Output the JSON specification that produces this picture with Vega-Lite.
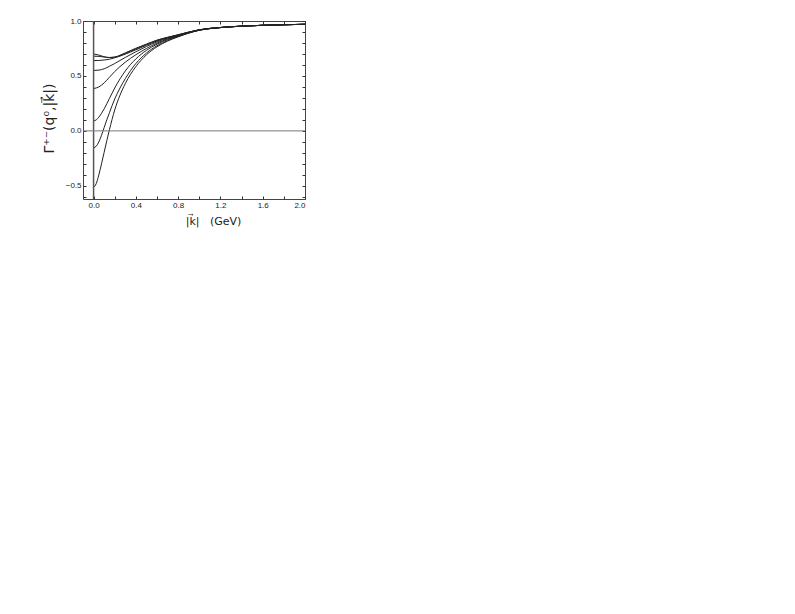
{
  "$schema": "https://vega.github.io/schema/vega-lite/v6.json",
  "autosize": "none",
  "padding": {"left": 83, "top": 21, "right": 490, "bottom": 415},
  "width": 222,
  "height": 178,
  "background": "white",
  "config": {
    "view": {"stroke": "#444", "strokeWidth": 1},
    "font": "Liberation Sans",
    "axis": {
      "grid": false,
      "domain": false,
      "tickSize": -3,
      "tickColor": "#333",
      "labelFont": "Liberation Sans",
      "labelFontSize": 8,
      "labelColor": "#222",
      "titleFont": "DejaVu Sans",
      "titleFontWeight": "normal",
      "titleFontSize": 11,
      "titleColor": "#222"
    }
  },
  "datasets": {
    "curves": [
      {"c":"A","k":0,"v":0.70},{"c":"A","k":0.05,"v":0.69},{"c":"A","k":0.1,"v":0.675},{"c":"A","k":0.15,"v":0.667},{"c":"A","k":0.2,"v":0.672},{"c":"A","k":0.3,"v":0.71},{"c":"A","k":0.4,"v":0.752},{"c":"A","k":0.5,"v":0.79},{"c":"A","k":0.6,"v":0.826},{"c":"A","k":0.7,"v":0.852},{"c":"A","k":0.8,"v":0.875},{"c":"A","k":1.0,"v":0.92},{"c":"A","k":1.2,"v":0.941},{"c":"A","k":1.4,"v":0.953},{"c":"A","k":1.6,"v":0.961},{"c":"A","k":1.8,"v":0.966},{"c":"A","k":2.0,"v":0.97},
      {"c":"B","k":0,"v":0.68},{"c":"B","k":0.05,"v":0.678},{"c":"B","k":0.1,"v":0.672},{"c":"B","k":0.15,"v":0.668},{"c":"B","k":0.2,"v":0.671},{"c":"B","k":0.3,"v":0.705},{"c":"B","k":0.4,"v":0.746},{"c":"B","k":0.5,"v":0.785},{"c":"B","k":0.6,"v":0.823},{"c":"B","k":0.7,"v":0.85},{"c":"B","k":0.8,"v":0.874},{"c":"B","k":1.0,"v":0.92},{"c":"B","k":1.2,"v":0.941},{"c":"B","k":1.4,"v":0.953},{"c":"B","k":1.6,"v":0.961},{"c":"B","k":1.8,"v":0.966},{"c":"B","k":2.0,"v":0.97},
      {"c":"C","k":0,"v":0.64},{"c":"C","k":0.05,"v":0.641},{"c":"C","k":0.1,"v":0.645},{"c":"C","k":0.15,"v":0.652},{"c":"C","k":0.2,"v":0.665},{"c":"C","k":0.3,"v":0.698},{"c":"C","k":0.4,"v":0.738},{"c":"C","k":0.5,"v":0.779},{"c":"C","k":0.6,"v":0.818},{"c":"C","k":0.7,"v":0.847},{"c":"C","k":0.8,"v":0.872},{"c":"C","k":1.0,"v":0.92},{"c":"C","k":1.2,"v":0.941},{"c":"C","k":1.4,"v":0.953},{"c":"C","k":1.6,"v":0.961},{"c":"C","k":1.8,"v":0.966},{"c":"C","k":2.0,"v":0.97},
      {"c":"D","k":0,"v":0.55},{"c":"D","k":0.05,"v":0.553},{"c":"D","k":0.1,"v":0.565},{"c":"D","k":0.15,"v":0.588},{"c":"D","k":0.2,"v":0.613},{"c":"D","k":0.3,"v":0.668},{"c":"D","k":0.4,"v":0.72},{"c":"D","k":0.5,"v":0.768},{"c":"D","k":0.6,"v":0.81},{"c":"D","k":0.7,"v":0.843},{"c":"D","k":0.8,"v":0.869},{"c":"D","k":1.0,"v":0.919},{"c":"D","k":1.2,"v":0.941},{"c":"D","k":1.4,"v":0.953},{"c":"D","k":1.6,"v":0.961},{"c":"D","k":1.8,"v":0.966},{"c":"D","k":2.0,"v":0.97},
      {"c":"E","k":0,"v":0.385},{"c":"E","k":0.05,"v":0.40},{"c":"E","k":0.1,"v":0.437},{"c":"E","k":0.15,"v":0.488},{"c":"E","k":0.2,"v":0.54},{"c":"E","k":0.3,"v":0.625},{"c":"E","k":0.4,"v":0.693},{"c":"E","k":0.5,"v":0.75},{"c":"E","k":0.6,"v":0.799},{"c":"E","k":0.7,"v":0.837},{"c":"E","k":0.8,"v":0.866},{"c":"E","k":1.0,"v":0.918},{"c":"E","k":1.2,"v":0.94},{"c":"E","k":1.4,"v":0.953},{"c":"E","k":1.6,"v":0.961},{"c":"E","k":1.8,"v":0.966},{"c":"E","k":2.0,"v":0.97},
      {"c":"F","k":0,"v":0.09},{"c":"F","k":0.025,"v":0.10},{"c":"F","k":0.05,"v":0.125},{"c":"F","k":0.075,"v":0.16},{"c":"F","k":0.1,"v":0.2},{"c":"F","k":0.15,"v":0.295},{"c":"F","k":0.2,"v":0.39},{"c":"F","k":0.3,"v":0.545},{"c":"F","k":0.4,"v":0.655},{"c":"F","k":0.5,"v":0.733},{"c":"F","k":0.6,"v":0.789},{"c":"F","k":0.7,"v":0.831},{"c":"F","k":0.8,"v":0.863},{"c":"F","k":1.0,"v":0.917},{"c":"F","k":1.2,"v":0.94},{"c":"F","k":1.4,"v":0.953},{"c":"F","k":1.6,"v":0.961},{"c":"F","k":1.8,"v":0.966},{"c":"F","k":2.0,"v":0.97},
      {"c":"G","k":0,"v":-0.155},{"c":"G","k":0.025,"v":-0.14},{"c":"G","k":0.05,"v":-0.1},{"c":"G","k":0.075,"v":-0.04},{"c":"G","k":0.1,"v":0.03},{"c":"G","k":0.125,"v":0.1},{"c":"G","k":0.15,"v":0.165},{"c":"G","k":0.2,"v":0.29},{"c":"G","k":0.25,"v":0.39},{"c":"G","k":0.3,"v":0.475},{"c":"G","k":0.4,"v":0.613},{"c":"G","k":0.5,"v":0.708},{"c":"G","k":0.6,"v":0.775},{"c":"G","k":0.7,"v":0.823},{"c":"G","k":0.8,"v":0.859},{"c":"G","k":1.0,"v":0.916},{"c":"G","k":1.2,"v":0.94},{"c":"G","k":1.4,"v":0.953},{"c":"G","k":1.6,"v":0.961},{"c":"G","k":1.8,"v":0.966},{"c":"G","k":2.0,"v":0.97},
      {"c":"H","k":0,"v":-0.515},{"c":"H","k":0.025,"v":-0.48},{"c":"H","k":0.05,"v":-0.4},{"c":"H","k":0.075,"v":-0.3},{"c":"H","k":0.1,"v":-0.195},{"c":"H","k":0.125,"v":-0.09},{"c":"H","k":0.15,"v":0.01},{"c":"H","k":0.2,"v":0.19},{"c":"H","k":0.25,"v":0.325},{"c":"H","k":0.3,"v":0.43},{"c":"H","k":0.4,"v":0.585},{"c":"H","k":0.5,"v":0.692},{"c":"H","k":0.6,"v":0.765},{"c":"H","k":0.7,"v":0.817},{"c":"H","k":0.8,"v":0.856},{"c":"H","k":1.0,"v":0.915},{"c":"H","k":1.2,"v":0.94},{"c":"H","k":1.4,"v":0.953},{"c":"H","k":1.6,"v":0.961},{"c":"H","k":1.8,"v":0.966},{"c":"H","k":2.0,"v":0.97}
    ],
    "zx": [{"k": 0}],
    "zy": [{"v": 0}]
  },
  "resolve": {"axis": {"x": "independent", "y": "independent"}},
  "layer": [
    {
      "data": {"name": "curves"},
      "mark": {"type": "line", "interpolate": "monotone", "color": "#222", "strokeWidth": 1},
      "encoding": {
        "x": {
          "field": "k", "type": "quantitative",
          "scale": {"domain": [-0.1, 2.0], "nice": false, "zero": false},
          "axis": {
            "orient": "bottom",
            "values": [0, 0.2, 0.4, 0.6, 0.8, 1.0, 1.2, 1.4, 1.6, 1.8, 2.0],
            "labelExpr": "round(datum.value*10) % 4 == 0 ? format(datum.value, '.1f') : ''",
            "labelPadding": 5,
            "title": "|k⃗|\u00a0\u00a0\u00a0(GeV)",
            "titlePadding": 6,
            "titleX": 130
          }
        },
        "y": {
          "field": "v", "type": "quantitative",
          "scale": {"domain": [-0.62, 1.0], "nice": false, "zero": false},
          "axis": {
            "orient": "left",
            "values": [-0.6, -0.5, -0.4, -0.3, -0.2, -0.1, 0, 0.1, 0.2, 0.3, 0.4, 0.5, 0.6, 0.7, 0.8, 0.9, 1.0],
            "labelExpr": "round(datum.value*10) % 5 == 0 ? format(datum.value, '.1f') : ''",
            "labelPadding": 5,
            "title": "Γ⁺⁻(q⁰,|k⃗|)",
            "titleFontSize": 14,
            "titlePadding": 9,
            "titleY": 97
          }
        },
        "detail": {"field": "c", "type": "nominal"}
      }
    },
    {
      "data": {"name": "zx"},
      "mark": {"type": "rule", "color": "#555", "strokeWidth": 1.5},
      "encoding": {
        "x": {
          "field": "k", "type": "quantitative",
          "scale": {"domain": [-0.1, 2.0], "nice": false, "zero": false},
          "axis": {
            "orient": "top",
            "values": [0, 0.2, 0.4, 0.6, 0.8, 1.0, 1.2, 1.4, 1.6, 1.8, 2.0],
            "labels": false,
            "title": null
          }
        }
      }
    },
    {
      "data": {"name": "zy"},
      "mark": {"type": "rule", "color": "#777", "strokeWidth": 1},
      "encoding": {
        "y": {
          "field": "v", "type": "quantitative",
          "scale": {"domain": [-0.62, 1.0], "nice": false, "zero": false},
          "axis": {
            "orient": "right",
            "values": [-0.6, -0.5, -0.4, -0.3, -0.2, -0.1, 0, 0.1, 0.2, 0.3, 0.4, 0.5, 0.6, 0.7, 0.8, 0.9, 1.0],
            "labels": false,
            "title": null
          }
        }
      }
    }
  ]
}
